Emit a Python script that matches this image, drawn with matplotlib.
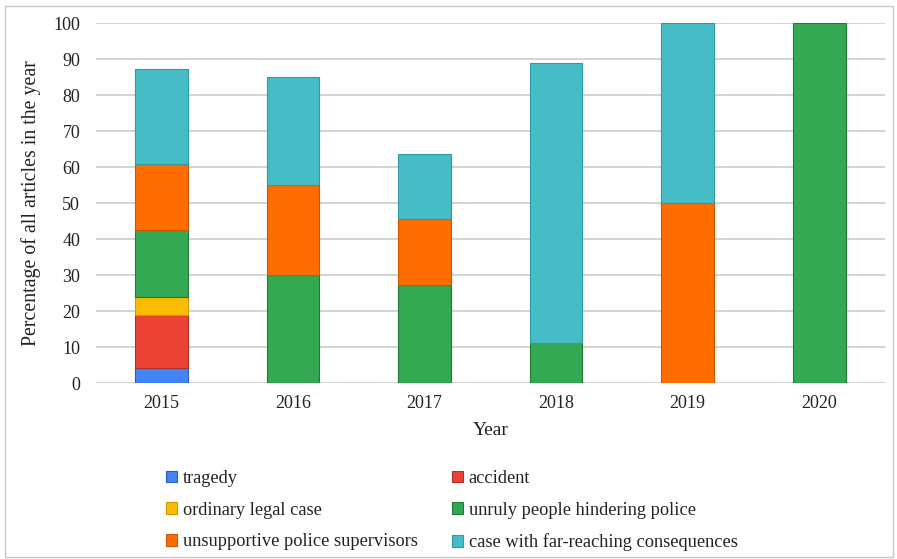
import matplotlib
matplotlib.use("Agg")
import matplotlib.pyplot as plt
from matplotlib.patches import Rectangle, Patch
import numpy as np

years = ["2015", "2016", "2017", "2018", "2019", "2020"]
categories = ["tragedy", "accident", "ordinary legal case",
              "unruly people hindering police", "unsupportive police supervisors",
              "case with far-reaching consequences"]
tragedy = [4.3, 0, 0, 0, 0, 0]
accident = [14.6, 0, 0, 0, 0, 0]
ordinary = [5.1, 0, 0, 0, 0, 0]
unruly = [18.6, 30.0, 27.3, 11.1, 0, 100.0]
unsupportive = [18.1, 25.0, 18.2, 0, 50.0, 0]
farreaching = [26.5, 30.0, 18.2, 77.8, 50.0, 0]
series = [tragedy, accident, ordinary, unruly, unsupportive, farreaching]
colors = ["#4285f4", "#ea4335", "#fbbc04", "#34a853", "#ff6d01", "#46bdc6"]
edges = ["#2a5fc0", "#b03028", "#d09a00", "#1f7a38", "#d05500", "#2e9aa2"]
yticks = [0, 10, 20, 30, 40, 50, 60, 70, 80, 90, 100]

plt.rcParams['font.family'] = ['Liberation Serif', 'DejaVu Serif']

W, H = 897, 559
fig = plt.figure(figsize=(W / 100, H / 100), dpi=100)
ax = fig.add_axes([95.5 / W, (H - 383) / H, (885 - 95.5) / W, 360 / H])

x = np.arange(len(years))
bottom = np.zeros(len(years))
handles = []
for vals, c, ec, name in zip(series, colors, edges, categories):
    v = np.array(vals, dtype=float)
    mask = v > 0
    ax.bar(x[mask], v[mask], width=0.4, bottom=bottom[mask], color=c,
           edgecolor=ec, linewidth=0.8, zorder=3)
    bottom += v
    handles.append(Patch(facecolor=c, edgecolor=ec, linewidth=0.8, label=name))

ax.set_xlim(-0.5, len(years) - 0.5)
ax.set_ylim(0, 100)
ax.set_yticks(yticks)
ax.set_xticks(x)
ax.set_xticklabels(years)
ax.yaxis.grid(True, color="#d0d0d0", linewidth=1.3, zorder=0)
ax.set_axisbelow(True)
for s in ax.spines.values():
    s.set_visible(False)
ax.tick_params(axis='both', length=0, labelsize=13, colors="#222222")
ax.tick_params(axis='y', pad=11)
ax.tick_params(axis='x', pad=9)
ax.set_ylabel("Percentage of all articles in the year", fontsize=14.3,
              color="#222222", labelpad=9)
ax.set_xlabel("Year", fontsize=14, color="#222222", labelpad=7)

order = [0, 2, 4, 1, 3, 5]
leg = fig.legend([handles[i] for i in order], [categories[i] for i in order],
                 ncol=2, loc="upper left", bbox_to_anchor=(166 / W, 1 - 470 / H),
                 frameon=False, fontsize=13.2, handlelength=0.6, handleheight=0.6,
                 handletextpad=0.3, labelspacing=0.8, columnspacing=1.9,
                 borderaxespad=0, borderpad=0)
for t in leg.get_texts():
    t.set_color("#222222")

fig.patches.append(Rectangle((4.5 / W, 2 / H), (W - 9) / W, (H - 7.5) / H,
                             transform=fig.transFigure, fill=False,
                             edgecolor="#c8c8c8", linewidth=1.0))

fig.savefig("out.png", dpi=100)
